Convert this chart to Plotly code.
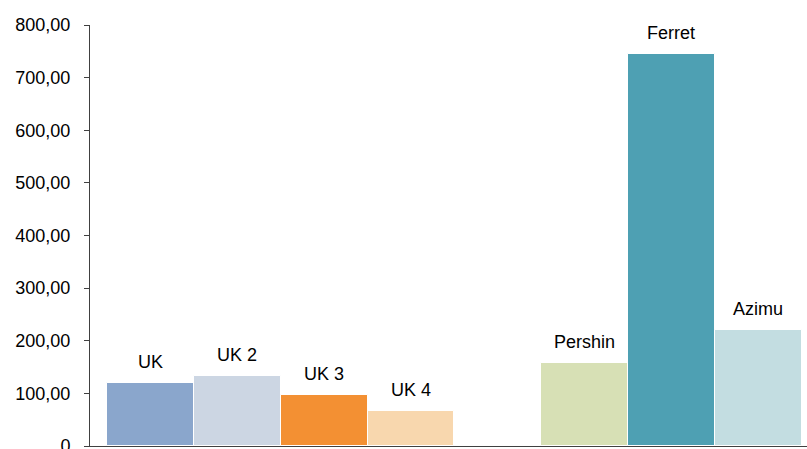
import plotly.graph_objects as go

categories = ["UK", "UK 2", "UK 3", "UK 4", "Pershin", "Ferret", "Azimu"]
slots = [0, 1, 2, 3, 5, 6, 7]
values = [120.3, 133.7, 97.0, 66.5, 157.0, 744.0, 220.5]
colors = ["#8aa6cc", "#ccd6e3", "#f39033", "#f8d7ae", "#d7e0b5", "#4ea0b3", "#c3dde1"]
tick_vals = [0, 100, 200, 300, 400, 500, 600, 700, 800]
tick_text = ["0", "100,00", "200,00", "300,00", "400,00", "500,00", "600,00", "700,00", "800,00"]

FONT = "Liberation Sans, Arial"

fig = go.Figure()
fig.add_trace(go.Bar(
    x=slots, y=values, width=1.0,
    marker=dict(color=colors, line=dict(color="white", width=1)),
    hoverinfo="skip",
))
for s, v, c in zip(slots, values, categories):
    fig.add_annotation(x=s, y=v, text=c, showarrow=False, yanchor="bottom", yshift=9,
                       font=dict(family=FONT, size=18, color="#000000"))

fig.update_layout(
    width=807, height=449,
    margin=dict(l=90, r=0, t=25, b=3, autoexpand=False),
    paper_bgcolor="white", plot_bgcolor="white",
    showlegend=False,
    bargap=0,
    font=dict(family=FONT, size=18, color="#000000"),
)
fig.update_xaxes(range=[-0.697, 7.563], showticklabels=False, ticks="", showgrid=False,
                 zeroline=False, showline=True, linecolor="#404040", linewidth=1,
                 automargin=False)
fig.update_yaxes(range=[0, 800], tickvals=tick_vals, ticktext=tick_text, ticks="outside",
                 ticklen=5, tickcolor="#404040", showgrid=False, zeroline=False,
                 showline=True, linecolor="#404040", linewidth=1, ticklabelstandoff=10,
                 ticklabeloverflow="allow", automargin=False,
                 tickfont=dict(family=FONT, size=18, color="#000000"))

fig.write_html("out.html")
